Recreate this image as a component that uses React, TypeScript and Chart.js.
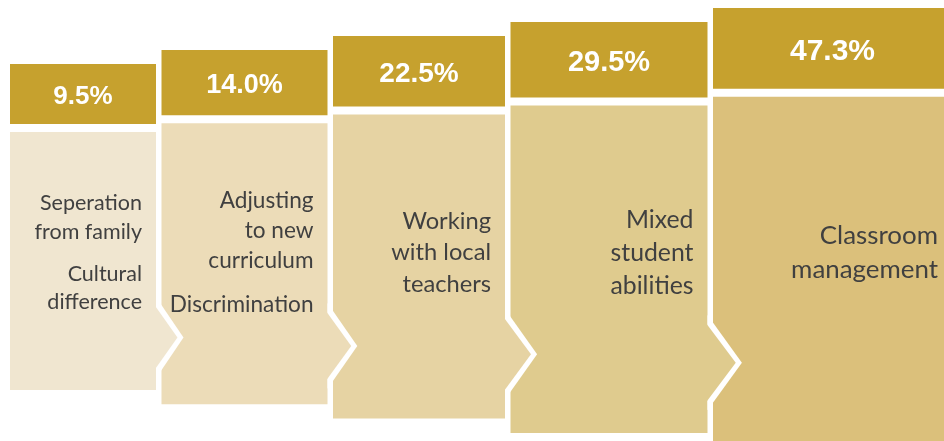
import React, { useEffect, useRef } from "react";
import { Chart, registerables } from "chart.js";

Chart.register(...registerables);

// ---------------- data ----------------
const percentages = [9.5, 14.0, 22.5, 29.5, 47.3];
const challengeLabels: string[][][] = [
  [["Seperation", "from family"], ["Cultural", "difference"]],
  [["Adjusting", "to new", "curriculum"], ["Discrimination"]],
  [["Working", "with local", "teachers"]],
  [["Mixed", "student", "abilities"]],
  [["Classroom", "management"]],
];

// ---------------- style ----------------
const headerColor = "#C6A12E";
const bodyColors = ["#F0E6D0", "#ECDCB8", "#E6D3A3", "#DFCB8E", "#DBC07B"];
const labelColor = "#404040";
const percentColor = "#FFFFFF";

// ---------------- layout (canvas units) ----------------
const W = 944;
const H = 441;
const panelWidths = [146, 166, 172, 197, 239];
const firstLeft = 10;
const panelGap = 5.5;
const headerTop = (i: number) => 64 - 14 * i;
const headerBottom = (i: number) => 124 - 8.8 * i;
const bodyTop = (i: number) => headerBottom(i) + 8;
const bodyBottom = (i: number) => 390 + 14.3 * i;
const chevMid = (i: number) => 337.5 + 8.4 * i;
const chevHalf = (i: number) => 32.5 + 2.5 * i;
const chevDepth = (i: number) => 22 + 2.3 * i;
const chevStroke = 5;
const labelCenterY = 252;
const labelPadRight = 14;

const lefts: number[] = [];
{
  let acc = firstLeft;
  panelWidths.forEach((w) => {
    lefts.push(acc);
    acc += w + panelGap;
  });
}
const centers = lefts.map((l, i) => l + panelWidths[i] / 2);

const panelPlugin = {
  id: "panelLayout",
  afterDatasetsUpdate(chart: any) {
    const xs = chart.scales.x;
    chart.data.datasets.forEach((_: any, d: number) => {
      chart.getDatasetMeta(d).data.forEach((el: any, i: number) => {
        const l = xs.getPixelForValue(lefts[i]);
        const r = xs.getPixelForValue(lefts[i] + panelWidths[i]);
        el.x = (l + r) / 2;
        el.width = r - l;
      });
    });
  },
  afterDatasetsDraw(chart: any) {
    const ctx: CanvasRenderingContext2D = chart.ctx;
    const xs = chart.scales.x;
    const ys = chart.scales.y;
    const body = chart.getDatasetMeta(1).data;
    const head = chart.getDatasetMeta(0).data;
    ctx.save();
    // chevrons
    for (let i = 0; i < body.length - 1; i++) {
      const R = body[i].x + body[i].width / 2;
      const L = body[i + 1].x - body[i + 1].width / 2;
      const mid = ys.getPixelForValue(chevMid(i));
      const h = Math.abs(ys.getPixelForValue(chevMid(i) + chevHalf(i)) - mid);
      const d = xs.getPixelForValue(chevDepth(i)) - xs.getPixelForValue(0);
      const tip = L + d;
      const ratio = (tip - R) / d;
      const topR = mid - h * ratio;
      const botR = mid + h * ratio;
      ctx.fillStyle = "#FFFFFF";
      ctx.beginPath();
      ctx.moveTo(R, topR);
      ctx.lineTo(tip, mid);
      ctx.lineTo(R, botR);
      ctx.closePath();
      ctx.fill();
      const len = Math.hypot(d, h);
      const innerTip = tip - (chevStroke * len) / h;
      const innerOff = (chevStroke * len) / d;
      ctx.fillStyle = bodyColors[i];
      ctx.beginPath();
      ctx.moveTo(R - 1, topR + innerOff);
      ctx.lineTo(innerTip, mid);
      ctx.lineTo(R - 1, botR - innerOff);
      ctx.closePath();
      ctx.fill();
    }
    // percentages
    ctx.textAlign = "center";
    ctx.textBaseline = "alphabetic";
    ctx.fillStyle = percentColor;
    head.forEach((el: any, i: number) => {
      const size = 26 + i;
      ctx.font = `bold ${size}px "Liberation Sans", Arial, sans-serif`;
      const cy = (el.y + el.base) / 2;
      ctx.fillText(percentages[i].toFixed(1) + "%", el.x, cy + size * 0.358 + 1);
    });
    // labels
    ctx.textAlign = "right";
    ctx.fillStyle = labelColor;
    body.forEach((el: any, i: number) => {
      const size = 21.5 + 1.1 * i;
      const spacing = size * 1.33;
      const groupGap = size * 0.62;
      const groups = challengeLabels[i];
      const nLines = groups.reduce((s, g) => s + g.length, 0);
      const total = (nLines - 1) * spacing + (groups.length - 1) * groupGap;
      let y = ys.getPixelForValue(labelCenterY) - total / 2;
      const xRight = el.x + el.width / 2 - labelPadRight;
      ctx.font = `${size}px Lato, "Noto Sans", sans-serif`;
      groups.forEach((g) => {
        g.forEach((line) => {
          ctx.fillText(line, xRight, y + size * 0.358);
          y += spacing;
        });
        y += groupGap;
      });
    });
    ctx.restore();
  },
};

export default function App() {
  const ref = useRef<HTMLCanvasElement>(null);
  useEffect(() => {
    const chart = new Chart(ref.current as HTMLCanvasElement, {
      type: "bar",
      data: {
        datasets: [
          {
            label: "Share",
            data: percentages.map((_, i) => ({ x: centers[i], y: [headerTop(i), headerBottom(i)] })) as any,
            backgroundColor: headerColor,
            borderWidth: 0,
            grouped: false,
          } as any,
          {
            label: "Challenge",
            data: percentages.map((_, i) => ({ x: centers[i], y: [bodyTop(i), bodyBottom(i)] })) as any,
            backgroundColor: bodyColors,
            borderWidth: 0,
            grouped: false,
          } as any,
        ],
      },
      options: {
        responsive: false,
        animation: false,
        devicePixelRatio: 1,
        layout: { padding: 0 },
        plugins: { legend: { display: false }, tooltip: { enabled: false } },
        scales: {
          x: { type: "linear", min: 0, max: W, display: false, offset: false },
          y: { type: "linear", min: 0, max: H, reverse: true, display: false },
        },
      },
      plugins: [panelPlugin],
    });
    return () => chart.destroy();
  }, []);
  return (
    <div style={{ position: "absolute", left: 0, top: 0, width: W, height: H, background: "#fff" }}>
      <canvas ref={ref} width={W} height={H} style={{ display: "block" }} />
    </div>
  );
}
